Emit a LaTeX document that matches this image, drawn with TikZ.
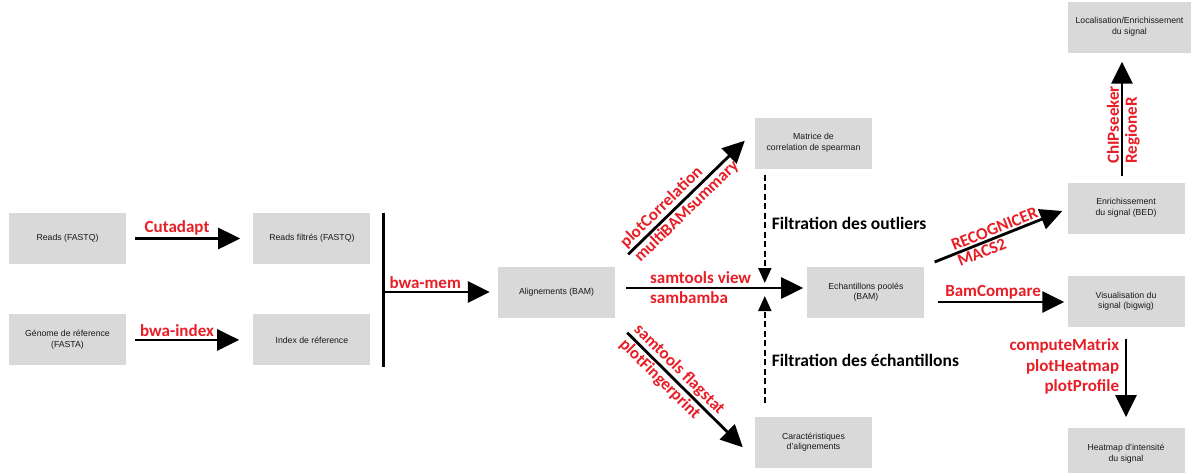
\documentclass[tikz,border=0pt]{standalone}
\usepackage{fontspec}
\setmainfont{Liberation Sans}
\newfontfamily\toolfont{Carlito}
\usepackage{xcolor}
\usetikzlibrary{arrows.meta,positioning,calc}
\definecolor{boxgray}{RGB}{217,217,217}
\definecolor{toolred}{RGB}{232,30,38}

\begin{document}
\begin{tikzpicture}[
  x=1pt, y=-1pt,
  font=\fontsize{8.7}{10.6}\selectfont,
  data/.style={rectangle, fill=boxgray, text=black!90, align=center,
               minimum width=117pt, minimum height=51pt, inner sep=2pt},
  arr/.style={-{Triangle[length=22pt,width=21pt]}, line width=2.8pt},
  dasharr/.style={-{Triangle[length=15pt,width=13pt]}, line width=2pt, dash pattern=on 6pt off 3.5pt},
  tool/.style={font=\toolfont\fontsize{17}{20.5}\selectfont\bfseries, text=toolred, inner sep=1.5pt},
  note/.style={font=\toolfont\fontsize{17.5}{20}\selectfont\bfseries, text=black, inner sep=1pt},
]
\useasboundingbox (0,0) rectangle (1192,472);
% input data and alignment
\node[data] (reads) at (67.5,238.5) {Reads (FASTQ)};
\node[data, right=127pt of reads] (filt) {Reads filtrés (FASTQ)};
\node[data, below=50pt of reads] (genome) {Génome de réference\\(FASTA)};
\node[data, below=50pt of filt] (index) {Index de réference};
\node[data] (alig) at (556.5,292) {Alignements (BAM)};
% quality control and pooling
\node[data] (matrice) at (813.5,143) {Matrice de\\correlation de spearman};
\node[data, right=192pt of alig] (pool) {Echantillons poolés\\(BAM)};
\node[data] (caract) at (813.5,442) {Caractéristiques\\d’alignements};
% signal analysis (right column)
\node[data] (enrich) at (1126,208) {Enrichissement\\du signal (BED)};
\node[data, minimum width=123pt] (locali) at (1129.5,27) {Localisation/Enrichissement\\du signal};
\node[data, below=42pt of enrich] (visu) {Visualisation du\\signal (bigwig)};
\node[data, below=101pt of visu] (heat) {Heatmap d’intensité\\du signal};

\draw[arr, shorten <=9pt, shorten >=13pt] (reads) -- node[tool, above, pos=0.4]{Cutadapt} (filt);
\draw[arr, shorten <=9pt, shorten >=14pt] (genome) -- node[tool, above, pos=0.4]{bwa-index} (index);
\coordinate (bartop) at ($(filt.north east)+(13,0)$);
\coordinate (barbot) at ($(index.south east)+(13,1)$);
\draw[line width=2.8pt] (bartop) -- (barbot);
\draw[arr, shorten >=8pt] (bartop |- alig) -- node[tool, above right, pos=0, xshift=3pt]{bwa-mem} (alig);

\draw[arr, shorten <=11pt, shorten >=4pt] ([yshift=4pt]alig.east) coordinate (ms)
  -- node[tool, above right, pos=0, xshift=32pt, yshift=1pt]{samtools view}
     node[tool, below right, pos=0, xshift=32pt, yshift=-1pt]{sambamba} ([yshift=4pt]pool.west);
\draw[arr] ($(alig.north east)+(13,-12)$) -- ($(matrice.south west)+(-10,-28)$)
  node[tool, sloped, pos=0, anchor=south west]{plotCorrelation}
  node[tool, sloped, pos=0, anchor=north west]{multiBAMsummary};
\draw[arr] ($(alig.south east)+(12,15)$) -- ($(caract.north west)+(-12,31)$)
  node[tool, sloped, pos=0, anchor=south west]{samtools flagstat}
  node[tool, sloped, pos=0, anchor=north west]{plotFingerprint};
% filtering steps
\coordinate (dtop) at ($(matrice.south west)+(10,6)$);
\coordinate (dbot) at ($(caract.north west)+(10,-13)$);
\draw[dasharr, shorten >=5pt] (dtop) -- node[note, right, pos=0.43, xshift=5pt]{Filtration des outliers} (dtop |- ms);
\draw[dasharr, shorten >=8pt] (dbot) -- node[note, right, pos=0.37, xshift=5pt]{Filtration des échantillons} (dbot |- ms);

\draw[arr] ($(pool.east)+(10,-30)$) -- ($(enrich.west)+(-5,3)$)
  node[tool, sloped, pos=0.14, anchor=south west]{RECOGNICER}
  node[tool, sloped, pos=0.14, anchor=north west]{MACS2};
\draw[arr, shorten <=13pt, shorten >=3pt] ([yshift=-10pt]pool.east) coordinate (bs) -- node[tool, above, pos=0.48]{BamCompare} (bs -| visu.west);
\draw[arr, shorten <=6pt, shorten >=9pt] ([xshift=-4pt]enrich.north) coordinate (cs) -- (cs |- locali.south)
  node[tool, sloped, pos=0.12, anchor=south west]{ChIPseeker}
  node[tool, sloped, pos=0.12, anchor=north west]{RegioneR};
\draw[arr, shorten <=12pt, shorten >=11pt] (visu) -- node[tool, align=right, anchor=north east, pos=0, xshift=-4pt, yshift=-9pt]{computeMatrix\\plotHeatmap\\plotProfile} (heat);
\end{tikzpicture}
\end{document}
